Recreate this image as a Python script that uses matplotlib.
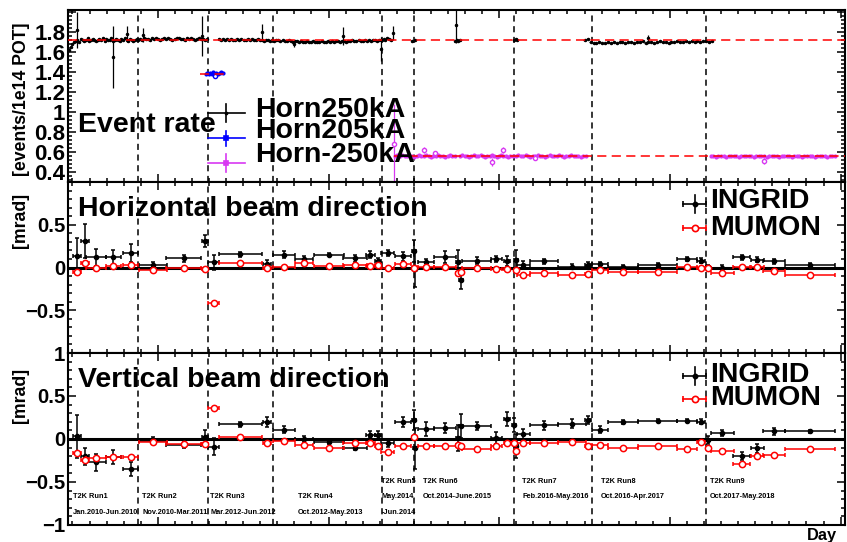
import numpy as np
import matplotlib.pyplot as plt
from matplotlib.ticker import MultipleLocator, FuncFormatter

plt.rcParams['font.family'] = ['Liberation Sans', 'DejaVu Sans']
plt.rcParams['font.weight'] = 'bold'
plt.rcParams['axes.labelweight'] = 'bold'

nan = np.nan

############# Data #############
# run boundaries and labels (x in days)
run_edges = [443, 648, 838, 1156, 1251, 1544, 1771, 2107]
run_names = ['T2K Run1', 'T2K Run2', 'T2K Run3', 'T2K Run4', 'T2K Run5',
             'T2K Run6', 'T2K Run7', 'T2K Run8', 'T2K Run9']
run_dates = ['Jan.2010-Jun.2010', 'Nov.2010-Mar.2011', 'Mar.2012-Jun.2012',
             'Oct.2012-May.2013', 'May.2014', 'Oct.2014-June.2015',
             'Feb.2016-May.2016', 'Oct.2016-Apr.2017', 'Oct.2017-May.2018']
run_label_day = [252, 454, 653, 911, 1155, 1276, 1567, 1798, 2117]

# event rate, Horn250kA (day spans of the daily series + values)
r250_spans = [(240, 443), (448, 644), (679, 1154), (1156, 1182), (1246, 1252),
              (1370, 1386), (1544, 1553), (1751, 2123)]
r250_run1 = [1.62, 1.65, 1.68, 1.70, 1.71, 1.72, 1.70, 1.73, 1.72, 1.71, 1.72, 1.74, 1.71, 1.72,
             1.73, 1.72, 1.71, 1.72, 1.73, 1.72, 1.74, 1.71, 1.73, 1.72, 1.72, 1.74, 1.71, 1.72,
             1.73, 1.72, 1.71, 1.73, 1.72, 1.74, 1.72, 1.71, 1.73, 1.72, 1.71, 1.72, 1.73, 1.72]
r250_run2 = [1.73, 1.72, 1.74, 1.73, 1.73, 1.72, 1.74, 1.73, 1.74, 1.73, 1.72, 1.73, 1.74, 1.73,
             1.74, 1.73, 1.72, 1.73, 1.74, 1.74, 1.73, 1.73, 1.72, 1.74, 1.73, 1.74, 1.73, 1.72,
             1.73, 1.74, 1.73, 1.73, 1.72, 1.73]
r250_run34 = [1.73, 1.72, 1.73, 1.725, 1.73, 1.72, 1.73, 1.72, 1.725, 1.73,
              1.72, 1.73, 1.72, 1.725, 1.73, 1.72, 1.73, 1.72, 1.72, 1.73,
              1.72, 1.725, 1.71, 1.72, 1.72, 1.715, 1.72, 1.71, 1.72, 1.72,
              1.71, 1.72, 1.71, 1.715, 1.72, 1.71, 1.70, 1.71, 1.715, 1.70,
              1.71, 1.70, 1.705, 1.71, 1.70, 1.70, 1.71, 1.70, 1.705, 1.70,
              1.71, 1.70, 1.70, 1.71, 1.70, 1.71, 1.705, 1.71, 1.71, 1.70,
              1.71, 1.715, 1.70, 1.71, 1.71, 1.72, 1.71, 1.715, 1.72, 1.71,
              1.71, 1.72, 1.71, 1.72, 1.715, 1.72, 1.72, 1.71, 1.72, 1.72]
r250_run5 = [1.72, 1.73, 1.72, 1.74, 1.73, 1.72]
r250_run8 = [1.72, 1.73, 1.70, 1.69, 1.69, 1.70, 1.69, 1.695, 1.70, 1.69,
             1.70, 1.69, 1.70, 1.70, 1.69, 1.70, 1.705, 1.69, 1.70, 1.70,
             1.71, 1.69, 1.70, 1.70, 1.695, 1.70, 1.71, 1.70, 1.70, 1.69,
             1.70, 1.70, 1.71, 1.70, 1.705, 1.71, 1.70, 1.71, 1.70, 1.71,
             1.70, 1.71, 1.71, 1.70, 1.71]
r250_vals = [r250_run1, r250_run2, r250_run34, r250_run5, [1.71, 1.72],
             [1.71, 1.72, 1.71, 1.72], [1.72, 1.73, 1.72], r250_run8]
r250_out_day = [263, 369, 409, 457, 628, 804, 900, 1043, 1155, 1190, 1373, 1936]
r250_out_val = [1.82, 1.55, 1.78, 1.77, 1.76, 1.80, 1.68, 1.76, 1.63, 1.79, 1.87, 1.74]
r250_out_err = [0.18, 0.31, 0.08, 0.07, 0.20, 0.08, 0.03, 0.09, 0.12, 0.07, 0.18, 0.03]

# Horn205kA
r205_span = (640, 690)
r205_vals = [1.38, 1.39, 1.38, 1.39, 1.38, 1.40, 1.38, 1.39, 1.38, 1.39, 1.40, 1.39]
r205_out_day = [667]
r205_out_val = [1.365]
r205_out_err = [0.015]

# Horn-250kA
rm250_spans = [(1195, 1370), (1385, 1539), (1549, 1753), (2120, 2483)]
rm250_vals = [
    [0.56, 0.57, 0.56, 0.57, 0.56, 0.56, 0.57, 0.56, 0.55, 0.56, 0.57, 0.56, 0.56,
     0.57, 0.56, 0.55, 0.56, 0.56, 0.57, 0.56, 0.56, 0.55, 0.56, 0.57, 0.56, 0.56],
    [0.56, 0.57, 0.56, 0.56, 0.55, 0.56, 0.57, 0.56, 0.56, 0.57, 0.56, 0.55,
     0.56, 0.56, 0.57, 0.56, 0.55, 0.56, 0.57, 0.56, 0.56, 0.55, 0.56, 0.56],
    [0.56, 0.57, 0.56, 0.56, 0.57, 0.56, 0.55, 0.56, 0.56, 0.57, 0.56, 0.56, 0.55, 0.56, 0.57,
     0.56, 0.56, 0.56, 0.57, 0.56, 0.55, 0.56, 0.56, 0.57, 0.56, 0.56, 0.56, 0.55, 0.56, 0.56],
    [0.56, 0.565, 0.555, 0.56, 0.565, 0.56, 0.555, 0.56, 0.565, 0.56,
     0.56, 0.555, 0.56, 0.565, 0.56, 0.56, 0.565, 0.555, 0.56, 0.56,
     0.565, 0.56, 0.555, 0.56, 0.56, 0.565, 0.56, 0.555, 0.56, 0.565,
     0.56, 0.56, 0.555, 0.56, 0.565, 0.56, 0.555, 0.56, 0.56, 0.565,
     0.56, 0.555, 0.56, 0.565, 0.56, 0.56, 0.555, 0.56, 0.565, 0.56]]
rm250_out_day = [1192, 1281, 1312, 1478, 1510, 1604, 2277]
rm250_out_val = [0.68, 0.62, 0.59, 0.50, 0.62, 0.54, 0.51]
rm250_out_err = [0.40, 0.03, 0.015, 0.04, 0.03, 0.015, 0.03]

# mean lines
mean_250 = 1.72
mean_205 = 1.385
mean_205_span = (623, 706)
mean_m250 = 0.56
mean_m250_span = (1192, 2513)

# beam direction bins
bin_day = [264, 287, 319, 369, 421, 486, 576, 638, 664, 742, 819, 869, 928, 1001, 1077,
           1123, 1146, 1173, 1219, 1250, 1253, 1285, 1341, 1378, 1387, 1434, 1492, 1523,
           1543, 1549, 1570, 1631, 1712, 1761, 1795, 1863, 1964, 2049, 2091, 2112, 2154,
           2210, 2256, 2305, 2410]
bin_half = [12, 12, 28, 22, 22, 40, 51, 9, 16, 62, 12, 32, 26, 44, 35, 12, 9, 20, 23, 6, 6,
            23, 32, 6, 6, 42, 15, 9, 6, 6, 19, 41, 41, 9, 23, 44, 57, 29, 12, 6, 34, 25, 19,
            32, 73]

h_ingrid = [0.14, 0.31, 0.12, 0.12, 0.17, 0.03, 0.11, 0.31, 0.06, 0.157,
            0.04, 0.15, 0.10, 0.15, 0.11, 0.15, 0.08, 0.17, 0.13, 0.19,
            -0.02, 0.06, 0.12, 0.06, -0.15, 0.08, 0.10, 0.08, nan, 0.09,
            0.03, 0.075, 0.01, 0.03, 0.04, 0.01, 0.03, 0.10, 0.08, 0.01,
            0.0, 0.12, 0.09, 0.075, 0.03]
h_ingrid_err = [0.21, 0.2, 0.1, 0.09, 0.1, 0.03, 0.04, 0.07, 0.09, 0.03,
                0.05, 0.04, 0.03, 0.02, 0.04, 0.04, 0.03, 0.04, 0.05, 0.13,
                0.21, 0.04, 0.07, 0.14, 0.1, 0.04, 0.04, 0.06, 0.0, 0.11,
                0.05, 0.03, 0.03, 0.03, 0.02, 0.02, 0.02, 0.02, 0.03, 0.02,
                0.03, 0.03, 0.03, 0.03, 0.02]
h_mumon = [-0.05, 0.047, -0.01, 0.015, 0.03, -0.03, -0.01, -0.015, -0.415, 0.047,
           0.0, 0.01, 0.05, 0.02, 0.035, 0.02, 0.03, -0.01, 0.045, -0.01,
           nan, 0.01, 0.01, -0.07, -0.05, 0.0, -0.02, -0.02, nan, -0.03,
           -0.085, -0.07, -0.085, -0.08, -0.03, -0.05, -0.05, 0.01, 0.0, -0.01,
           -0.07, 0.01, 0.01, -0.045, -0.085]

v_ingrid = [0.03, -0.2, -0.27, -0.21, -0.345, -0.02, -0.065, 0.02, -0.09, 0.17,
            0.2, 0.11, 0.0, -0.04, -0.1, 0.05, 0.047, -0.05, 0.2, 0.22,
            -0.11, 0.12, 0.125, 0.01, 0.15, 0.15, 0.01, 0.23, 0.16, -0.08,
            0.06, 0.16, 0.18, 0.22, 0.11, 0.2, 0.215, 0.215, 0.2, -0.01,
            0.07, -0.2, -0.11, 0.09, 0.09]
v_ingrid_err = [0.25, 0.1, 0.1, 0.08, 0.08, 0.04, 0.04, 0.08, 0.1, 0.03,
                0.06, 0.04, 0.03, 0.02, 0.03, 0.04, 0.05, 0.04, 0.06, 0.12,
                0.24, 0.08, 0.06, 0.15, 0.14, 0.05, 0.07, 0.08, 0.08, 0.14,
                0.06, 0.05, 0.05, 0.05, 0.04, 0.02, 0.02, 0.02, 0.03, 0.05,
                0.04, 0.05, 0.05, 0.04, 0.02]
v_mumon = [-0.165, -0.245, -0.22, -0.215, -0.215, -0.035, -0.055, -0.055, 0.365, 0.02,
           -0.047, -0.02, -0.07, -0.105, -0.05, -0.047, -0.085, -0.15, -0.08, 0.025,
           nan, -0.08, -0.08, -0.075, -0.08, -0.12, -0.08, -0.047, -0.045, -0.14,
           -0.047, -0.05, -0.03, -0.08, -0.065, -0.1, -0.08, -0.12, -0.04, -0.105,
           -0.14, -0.295, -0.2, -0.19, -0.115]

############# Plot #############
MAG = '#d838f2'
BIG = 20.5
BOLD = dict(fontweight='bold')

fig = plt.figure(figsize=(8.47, 5.42), dpi=100)
ax1 = fig.add_axes([0.0803, 0.6642, 0.9174, 0.3173])
ax2 = fig.add_axes([0.0803, 0.3487, 0.9174, 0.3155])
ax3 = fig.add_axes([0.0803, 0.0314, 0.9174, 0.3173])


def fmt_factory(vmax):
    def f(v, p):
        if abs(v) > vmax:
            return ''
        if abs(v) < 1e-9:
            return '0'
        return f'{v:g}'.replace('-', '\u2212')
    return FuncFormatter(f)


def style(ax, ylim, major, minor, labelsize, vmax):
    ax.set_xlim(237, 2513)
    ax.set_ylim(*ylim)
    ax.xaxis.set_major_locator(MultipleLocator(500))
    ax.xaxis.set_minor_locator(MultipleLocator(50))
    ax.yaxis.set_major_locator(MultipleLocator(major))
    ax.yaxis.set_minor_locator(MultipleLocator(minor))
    ax.yaxis.set_major_formatter(fmt_factory(vmax))
    ax.tick_params(which='both', direction='in', top=True, right=True, width=1.1)
    ax.tick_params(which='major', length=6)
    ax.tick_params(which='minor', length=3)
    ax.tick_params(axis='x', labelbottom=False)
    ax.tick_params(axis='y', labelsize=labelsize, pad=2)
    for lab in ax.get_yticklabels():
        lab.set_fontweight('bold')
    for s in ax.spines.values():
        s.set_linewidth(1.5)
    for d in run_edges:
        ax.axvline(d, color='k', ls=(0, (4, 3)), lw=1.1, zorder=1)


style(ax1, (0.3, 2.02), 0.2, 0.04, 16, 1.9)
style(ax2, (-1.0, 1.0), 0.5, 0.1, 14.7, 0.9)
style(ax3, (-1.0, 1.0), 0.5, 0.1, 14.7, 1.01)


def daily(ax, spans, vals, color, ms):
    for (a, b), v in zip(spans, vals):
        x = np.linspace(a, b, len(v))
        hw = (b - a) / max(len(v) - 1, 1) / 2
        ax.errorbar(x, v, xerr=hw, yerr=0.01, fmt='o', color=color, ms=ms,
                    lw=0.9, capsize=0, zorder=2)


# Event rate panel
daily(ax1, r250_spans, r250_vals, 'k', 1.5)
ax1.errorbar(r250_out_day, r250_out_val, yerr=r250_out_err, xerr=2, fmt='o',
             color='k', ms=1.5, lw=0.9, zorder=2)
daily(ax1, [r205_span], [r205_vals], 'blue', 2)
ax1.errorbar(r205_out_day, r205_out_val, yerr=r205_out_err, fmt='o', mfc='white',
             color='blue', ms=3, lw=0.9, zorder=2)
daily(ax1, rm250_spans, rm250_vals, MAG, 2)
ax1.errorbar(rm250_out_day, rm250_out_val, yerr=rm250_out_err, fmt='o', mfc='white',
             color=MAG, ms=3, lw=0.9, zorder=2)
ax1.axhline(mean_250, color='red', ls=(0, (6, 3.5)), lw=1.1, zorder=3)
ax1.plot(mean_205_span, [mean_205] * 2, color='red', ls=(0, (6, 3.5)), lw=1.1, zorder=3)
ax1.plot(mean_m250_span, [mean_m250] * 2, color='red', ls=(0, (6, 3.5)), lw=1.1, zorder=3)

ax1.text(0.0129, 0.292, 'Event rate', transform=ax1.transAxes, fontsize=BIG,
         va='baseline', **BOLD)


def legend_entry(ax, xs, y_line, y_text, color, label, marker, mfc, ms, vbar, caps=False):
    x0, x1, xc, xt = xs
    kw = dict(transform=ax.transAxes, clip_on=False, color=color, lw=1.2)
    ax.plot([x0, x1], [y_line, y_line], **kw)
    if vbar:
        ax.plot([xc, xc], [y_line - vbar, y_line + vbar], **kw)
    if caps:
        ax.plot([x0, x1], [y_line, y_line], ls='none', marker='|', ms=5, mew=1.2,
                transform=ax.transAxes, color=color)
    if marker:
        ax.plot([xc], [y_line], ls='none', marker=marker, mfc=mfc, mec=color, ms=ms,
                mew=1.2, transform=ax.transAxes, clip_on=False)
    ax.text(xt, y_text, label, transform=ax.transAxes, fontsize=BIG, va='baseline', **BOLD)


top_leg = (0.1806, 0.2278, 0.203, 0.2407)
legend_entry(ax1, top_leg, 0.403, 0.380, 'k', 'Horn250kA', 'o', 'k', 1.5, 0.052)
legend_entry(ax1, top_leg, 0.254, 0.254, 'blue', 'Horn205kA', 's', 'blue', 3, 0.044)
legend_entry(ax1, top_leg, 0.112, 0.118, MAG, 'Horn-250kA', 's', MAG, 3, 0.052)
ax1.set_ylabel('[events/1e14 POT]', fontsize=12.7, loc='top', **BOLD)
ax1.yaxis.set_label_coords(-0.0596, 0.93)
ax1.yaxis.label.set_verticalalignment('center')


# Beam direction panels
def direction(ax, ingrid, ingrid_err, mumon):
    ax.axhline(0, color='k', lw=2.2, zorder=1.5)
    ax.errorbar(bin_day, ingrid, xerr=bin_half, yerr=ingrid_err, fmt='o', color='k',
                ms=3, lw=1.1, capsize=1.5, capthick=1.1, zorder=3)
    ax.errorbar(bin_day, mumon, xerr=bin_half, fmt='o', color='red', mfc='white',
                ms=4.5, mew=1.1, lw=1.1, capsize=1.5, capthick=1.1, zorder=4)


direction(ax2, h_ingrid, h_ingrid_err, h_mumon)
direction(ax3, v_ingrid, v_ingrid_err, v_mumon)

ax2.text(0.0129, 0.801, 'Horizontal beam direction', transform=ax2.transAxes,
         fontsize=BIG, va='baseline', **BOLD)
ax3.text(0.0129, 0.804, 'Vertical beam direction', transform=ax3.transAxes,
         fontsize=BIG, va='baseline', **BOLD)

dir_leg = (0.792, 0.821, 0.8066, 0.826)
legend_entry(ax2, dir_leg, 0.871, 0.846, 'k', 'INGRID', 'o', 'k', 3, 0.053, caps=True)
legend_entry(ax2, dir_leg, 0.729, 0.690, 'red', 'MUMON', 'o', 'white', 4.5, 0, caps=True)
legend_entry(ax3, dir_leg, 0.866, 0.833, 'k', 'INGRID', 'o', 'k', 3, 0.053, caps=True)
legend_entry(ax3, dir_leg, 0.731, 0.698, 'red', 'MUMON', 'o', 'white', 4.5, 0, caps=True)

for ax, ytop in [(ax2, 0.936), (ax3, 0.913)]:
    ax.set_ylabel('[mrad]', fontsize=12.7, loc='top', **BOLD)
    ax.yaxis.set_label_coords(-0.0607, ytop)
    ax.yaxis.label.set_verticalalignment('center')

# run labels
for i, (name, date, d) in enumerate(zip(run_names, run_dates, run_label_day)):
    if i < 4:
        ax3.text(d, -0.663, name, fontsize=5.3, va='center', **BOLD)
        ax3.text(d, -0.85, date, fontsize=5.3, va='center', **BOLD)
    else:
        ax3.text(d, -0.50, name, fontsize=5.3, va='center', **BOLD)
        ax3.text(d, -0.663, date, fontsize=5.3, va='center', **BOLD)
        if i == 4:
            ax3.text(d, -0.85, '-Jun.2014', fontsize=5.3, va='center', **BOLD)

ax3.set_xlabel('Day', fontsize=11.8, **BOLD)
ax3.xaxis.set_label_coords(0.9897, -0.087)
ax3.xaxis.label.set_horizontalalignment('right')
ax3.xaxis.label.set_verticalalignment('baseline')

fig.savefig('out.png', dpi=100)
